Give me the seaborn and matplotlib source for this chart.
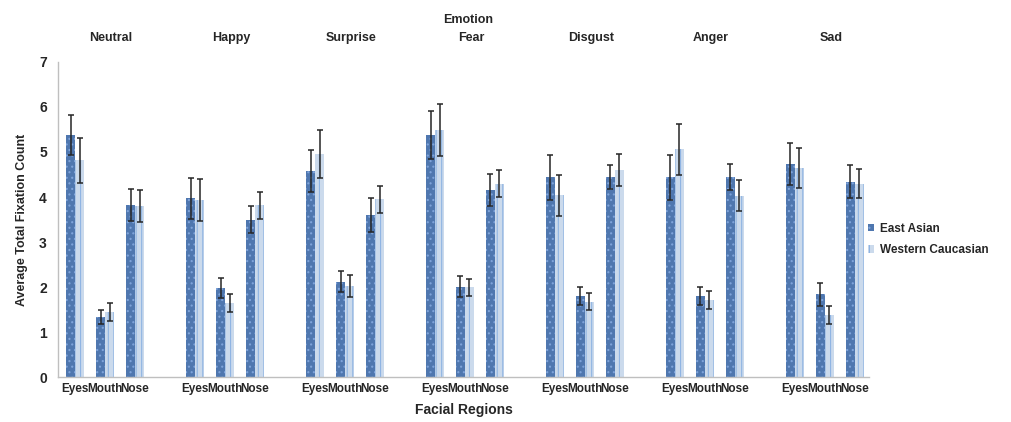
import numpy as np
import pandas as pd
import matplotlib
matplotlib.use("Agg")
import matplotlib.pyplot as plt
import seaborn as sns

emotions = ['Neutral', 'Happy', 'Surprise', 'Fear', 'Disgust', 'Anger', 'Sad']
regions = ['Eyes', 'Mouth', 'Nose']
groups = ['East Asian', 'Western Caucasian']

# one row per emotion: Eyes, Mouth, Nose
east_mean = [[5.38, 1.34, 3.82], [3.97, 1.97, 3.50], [4.58, 2.12, 3.60], [5.38, 2.01, 4.16],
             [4.44, 1.81, 4.44], [4.44, 1.81, 4.44], [4.73, 1.84, 4.34]]
east_err = [[0.45, 0.16, 0.35], [0.45, 0.22, 0.30], [0.46, 0.24, 0.37], [0.53, 0.24, 0.35],
            [0.50, 0.20, 0.27], [0.50, 0.20, 0.29], [0.46, 0.26, 0.37]]
west_mean = [[4.82, 1.45, 3.80], [3.93, 1.64, 3.82], [4.96, 2.02, 3.95], [5.49, 1.99, 4.30],
             [4.04, 1.67, 4.60], [5.06, 1.71, 4.03], [4.64, 1.38, 4.30]]
west_err = [[0.50, 0.20, 0.35], [0.46, 0.20, 0.30], [0.53, 0.25, 0.30], [0.58, 0.18, 0.30],
            [0.46, 0.19, 0.35], [0.56, 0.20, 0.35], [0.44, 0.20, 0.32]]

# long table, one key per emotion/region slot
rows = []
for i, emo in enumerate(emotions):
    for j, reg in enumerate(regions):
        key = f"{emo}|{reg}"
        rows.append({'slot': key, 'group': groups[0], 'value': east_mean[i][j], 'err': east_err[i][j]})
        rows.append({'slot': key, 'group': groups[1], 'value': west_mean[i][j], 'err': west_err[i][j]})
df = pd.DataFrame(rows)

# empty slot between emotions
order = []
for i, emo in enumerate(emotions):
    order += [f"{emo}|{reg}" for reg in regions]
    if i < len(emotions) - 1:
        order.append(f"gap{i}")

sns.set_theme(style="white")
plt.rcParams['font.family'] = ['Liberation Sans', 'DejaVu Sans']
plt.rcParams['hatch.linewidth'] = 0.8

fig = plt.figure(figsize=(10.12, 4.22), dpi=100)
ax = fig.add_axes([0.0573, 0.1066, 0.8014, 0.7465])

sns.barplot(data=df, x='slot', y='value', hue='group', order=order, hue_order=groups,
            palette=['#3f74bf', '#c6d9f1'], errorbar=None, width=0.6, ax=ax, legend=False)

# bar textures: dotted for East Asian, vertical stripes for Western Caucasian
for p in ax.containers[0]:
    p.set_hatch('...')
    p.set_edgecolor('#7ea3da')
    p.set_linewidth(0)
for p in ax.containers[1]:
    p.set_hatch('|||')
    p.set_edgecolor('#8fb4e3')
    p.set_linewidth(0)

# error bars at the drawn bar centres
err_lookup = {(r.slot, r.group): r.err for r in df.itertuples()}
for c, g in zip(ax.containers[:2], groups):
    for p in c:
        if np.isnan(p.get_height()) or p.get_height() == 0:
            continue
        xc = p.get_x() + p.get_width() / 2
        key = order[int(round(xc))]
        ax.errorbar(xc, p.get_height(), yerr=err_lookup[(key, g)], fmt='none',
                    ecolor='#262626', elinewidth=1.1, capsize=2.5, capthick=1.1)

ax.set_xlim(-0.57, len(order) - 0.53)
ax.set_ylim(0, 7)
ax.set_yticks(range(8))
ax.set_yticklabels([str(v) for v in range(8)], fontsize=10, fontweight='bold')
ax.set_xticks(range(len(order)))
ax.set_xticklabels([k.split('|')[1] if '|' in k else '' for k in order], fontsize=8.5, fontweight='bold')
ax.tick_params(axis='x', length=0, pad=4)
ax.tick_params(axis='y', length=4, width=0.8, color='#bfbfbf', direction='out', pad=4)

for side in ['top', 'right']:
    ax.spines[side].set_visible(False)
for side in ['left', 'bottom']:
    ax.spines[side].set_color('#bfbfbf')
    ax.spines[side].set_linewidth(1)

ax.set_xlabel('Facial Regions', fontsize=10, fontweight='bold', labelpad=6)
ax.set_ylabel('Average Total Fixation Count', fontsize=9, fontweight='bold', labelpad=8)

# emotion names above each group
trans = matplotlib.transforms.blended_transform_factory(ax.transData, ax.transAxes)
for i, emo in enumerate(emotions):
    xpos = order.index(f"{emo}|Mouth") + 0.2
    ax.text(xpos, 1.076, emo, transform=trans, ha='center', va='center', fontsize=9, fontweight='bold')
ax.text(order.index("Fear|Mouth") + 0.1, 1.133, 'Emotion', transform=trans, ha='center', va='center',
        fontsize=9, fontweight='bold')

fig.legend(handles=[ax.containers[0], ax.containers[1]], labels=groups, loc='upper left',
           bbox_to_anchor=(0.858, 0.472), frameon=False, handlelength=0.5,
           handleheight=0.6, handletextpad=0.5, labelspacing=0.8, borderpad=0, borderaxespad=0,
           prop={'weight': 'bold', 'size': 8.5})

fig.savefig('out.png', dpi=100)
